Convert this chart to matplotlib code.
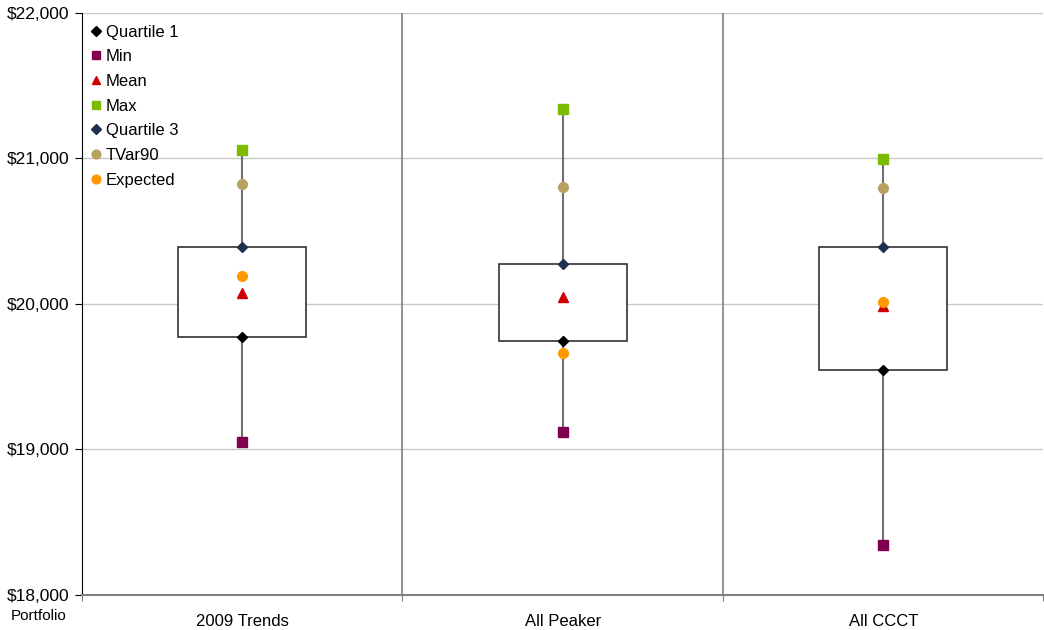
import matplotlib.pyplot as plt
from matplotlib.ticker import FuncFormatter

plt.rcParams['font.family'] = ['Liberation Sans', 'DejaVu Sans']

portfolios = ['2009 Trends', 'All Peaker', 'All CCCT']
quartile1 = [19775, 19745, 19545]
minimum = [19050, 19120, 18345]
mean = [20075, 20050, 19985]
maximum = [21055, 21340, 20995]
quartile3 = [20390, 20275, 20390]
tvar90 = [20825, 20800, 20795]
expected = [20190, 19665, 20015]

fig = plt.figure(figsize=(10.44, 6.3), dpi=100)
ax = fig.add_axes([0.0785, 0.0556, 0.921, 0.924])

x = list(range(len(portfolios)))

# whiskers from min to max, then the box on top
for i in x:
    ax.plot([i, i], [minimum[i], maximum[i]], color='#707070', lw=1.5, zorder=2)
heights = [q3 - q1 for q1, q3 in zip(quartile1, quartile3)]
ax.bar(x, heights, bottom=quartile1, width=0.4, color='white',
       edgecolor='#202020', lw=1.1, zorder=3)

ms = 7
ax.plot(x, quartile1, 'D', color='black', ms=ms - 1.5, label='Quartile 1', zorder=5)
ax.plot(x, minimum, 's', color='#80004F', ms=ms - 0.5, label='Min', zorder=5)
ax.plot(x, mean, '^', color='#D00000', ms=ms, label='Mean', zorder=5)
ax.plot(x, maximum, 's', color='#7DBB00', ms=ms - 0.5, label='Max', zorder=5)
ax.plot(x, quartile3, 'D', color='#1F2F4F', ms=ms - 1.5, label='Quartile 3', zorder=5)
ax.plot(x, tvar90, 'o', color='#B8A060', ms=ms, label='TVar90', zorder=5)
ax.plot(x, expected, 'o', color='#FF9900', ms=ms, label='Expected', zorder=5)

ax.set_xlim(-0.5, len(portfolios) - 0.5)
ax.set_ylim(18000, 22000)
ax.set_yticks([18000, 19000, 20000, 21000, 22000])
ax.yaxis.set_major_formatter(FuncFormatter(lambda v, p: '${:,.0f}'.format(v)))
ax.grid(axis='y', color='#C8C8C8', lw=1)
ax.set_axisbelow(True)

# category separators
for b in [0.5, 1.5]:
    ax.axvline(b, color='#808080', lw=1.2, zorder=1)
ax.set_xticks([-0.5, 0.5, 1.5, 2.5])
ax.set_xticklabels([])
ax.set_xticks(x, minor=True)
ax.set_xticklabels(portfolios, minor=True)
ax.tick_params(axis='x', which='minor', length=0, labelsize=12, pad=14)
ax.tick_params(axis='x', which='major', length=4, color='#808080')
ax.tick_params(axis='y', length=5, labelsize=12.5, pad=4)

for s in ['top', 'right']:
    ax.spines[s].set_visible(False)
ax.spines['bottom'].set_color('#808080')
ax.spines['bottom'].set_linewidth(1.5)
ax.spines['left'].set_color('black')

fig.text(0.037, 0.011, 'Portfolio', fontsize=11, ha='center', va='bottom')

ax.legend(loc='upper left', frameon=False, fontsize=12, handlelength=0.5,
          handletextpad=0.35, labelspacing=0.58, borderaxespad=0.2,
          markerscale=0.9, bbox_to_anchor=(0.0, 0.997))

fig.savefig('out.png', dpi=100)
